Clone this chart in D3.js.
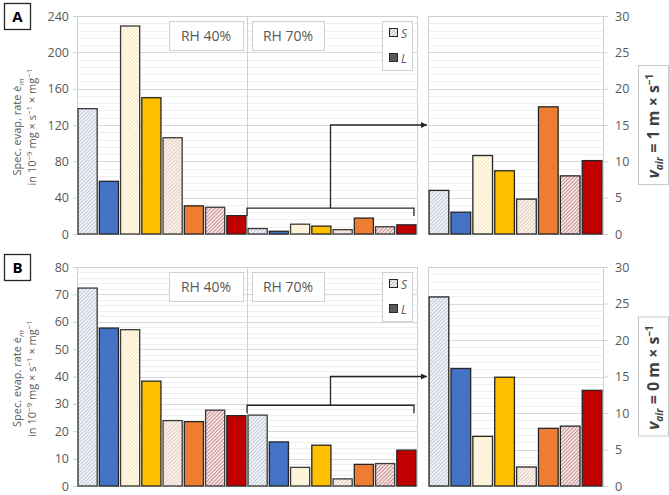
<!DOCTYPE html>
<html>
<head>
<meta charset="utf-8">
<script src="https://cdn.jsdelivr.net/npm/d3@7"></script>
<style>
  body { margin: 0; background: #fff; }
  svg text { font-family: "Open Sans", "Liberation Sans", sans-serif; }
</style>
</head>
<body>
<script>
// bar order: S/L pairs for four samples
var kinds = ['S', 'L', 'S', 'L', 'S', 'L', 'S', 'L']
var samples = ['s1', 's1', 's2', 's2', 's3', 's3', 's4', 's4']

// panel A (v_air = 1 m/s)
var rh40A = [138, 58, 229, 150, 106, 31, 29.4, 20.2]
var rh70A = [6.0, 3.0, 10.8, 8.7, 4.8, 17.5, 8.0, 10.1]
// panel B (v_air = 0 m/s)
var rh40B = [72.3, 57.7, 57.1, 38.3, 23.9, 23.5, 27.7, 25.7]
var rh70B = [25.9, 16.1, 6.8, 14.9, 2.6, 7.9, 8.2, 13.1]

var leftTicksA = [0, 40, 80, 120, 160, 200, 240]
var leftTicksB = [0, 10, 20, 30, 40, 50, 60, 70, 80]
var rightTicks = [0, 5, 10, 15, 20, 25, 30]

var fills = ['url(#h0)', '#4472C4', 'url(#h1)', '#FFC000', 'url(#h2)', '#ED7D31', 'url(#h3)', '#C00000']
var hatch = [
    {bg: '#f1f4f9', fg: '#9aa9be'},
    {bg: '#fffbee', fg: '#f0d58a'},
    {bg: '#fbf3ee', fg: '#cfb09a'},
    {bg: '#f5e4e4', fg: '#a65457'}
]

var W = 669, H = 495
var svg = d3.select('body').append('svg').attr('width', W).attr('height', H)

var defs = svg.append('defs')
hatch.forEach(function (h, i) {
    var p = defs.append('pattern')
        .attr('id', 'h' + i)
        .attr('patternUnits', 'userSpaceOnUse')
        .attr('width', 2.6).attr('height', 2.6)
        .attr('patternTransform', 'rotate(45)')
    p.append('rect').attr('width', 2.6).attr('height', 2.6).attr('fill', h.bg)
    p.append('line').attr('x1', 0).attr('y1', 0).attr('x2', 0).attr('y2', 2.6)
        .attr('stroke', h.fg).attr('stroke-width', 1.1)
})
var lp = defs.append('pattern').attr('id', 'hleg').attr('patternUnits', 'userSpaceOnUse')
    .attr('width', 2.5).attr('height', 2.5).attr('patternTransform', 'rotate(45)')
lp.append('rect').attr('width', 2.5).attr('height', 2.5).attr('fill', '#f2f2f2')
lp.append('line').attr('x1', 0).attr('y1', 0).attr('x2', 0).attr('y2', 2.5).attr('stroke', '#8a8a8a').attr('stroke-width', 1)

defs.append('marker').attr('id', 'arr')
    .attr('viewBox', '0 0 10 10').attr('refX', 10).attr('refY', 5)
    .attr('markerWidth', 7).attr('markerHeight', 6).attr('markerUnits', 'userSpaceOnUse')
    .attr('orient', 'auto')
    .append('path').attr('d', 'M0,0 L10,5 L0,10 z').attr('fill', '#262626')

var L0 = 77, L1 = 417, R0 = 428, R1 = 603
var textCol = '#595959'

function minorTicks(ticks) {
    var out = []
    for (var i = 0; i < ticks.length - 1; i++) {
        var step = (ticks[i + 1] - ticks[i]) / 5
        for (var k = 1; k < 5; k++) out.push(ticks[i] + k * step)
    }
    return out
}

function drawPanel(o) {
    var g = svg.append('g')
    var yL = d3.scaleLinear().domain([0, o.leftTicks[o.leftTicks.length - 1]]).range([o.bottom, o.top])
    var yR = d3.scaleLinear().domain([0, rightTicks[rightTicks.length - 1]]).range([o.bottom, o.top])

    var xL = d3.scaleBand().domain(d3.range(16)).range([L0, L1]).paddingInner(0.1).paddingOuter(0.05)
    var xR = d3.scaleBand().domain(d3.range(8)).range([R0, R1]).paddingInner(0.1).paddingOuter(0.05)

    // gridlines
    function grid(x0, x1, y, ticks) {
        g.selectAll(null).data(minorTicks(ticks)).enter().append('line')
            .attr('x1', x0).attr('x2', x1)
            .attr('y1', d => Math.round(y(d)) + 0.5).attr('y2', d => Math.round(y(d)) + 0.5)
            .attr('stroke', '#efefef').attr('stroke-width', 1)
        g.selectAll(null).data(ticks).enter().append('line')
            .attr('x1', x0).attr('x2', x1)
            .attr('y1', d => Math.round(y(d)) + 0.5).attr('y2', d => Math.round(y(d)) + 0.5)
            .attr('stroke', '#d9d9d9').attr('stroke-width', 1)
    }
    grid(L0, L1, yL, o.leftTicks)
    grid(R0, R1, yR, rightTicks)

    // plot frames
    g.append('rect').attr('x', L0 + 0.5).attr('y', o.top + 0.5)
        .attr('width', L1 - L0).attr('height', o.bottom - o.top)
        .attr('fill', 'none').attr('stroke', '#d0d0d0')
    g.append('line').attr('x1', (L0 + L1) / 2 + 0.5).attr('x2', (L0 + L1) / 2 + 0.5)
        .attr('y1', o.top).attr('y2', o.bottom).attr('stroke', '#d0d0d0')
    g.append('rect').attr('x', R0 + 0.5).attr('y', o.top + 0.5)
        .attr('width', R1 - R0).attr('height', o.bottom - o.top)
        .attr('fill', 'none').attr('stroke', '#d0d0d0')

    // axes
    var axL = d3.axisLeft(yL).tickValues(o.leftTicks).tickSize(4).tickPadding(4)
    var gl = g.append('g').attr('transform', 'translate(' + L0 + ',0)').call(axL)
    var axR = d3.axisRight(yR).tickValues(rightTicks).tickSize(5).tickPadding(7)
    var gr = g.append('g').attr('transform', 'translate(' + R1 + ',0)').call(axR)
    ;[gl, gr].forEach(function (a) {
        a.select('.domain').remove()
        a.selectAll('.tick line').attr('stroke', '#d0d0d0')
        a.selectAll('.tick text').attr('fill', textCol).style('font-size', '12.5px')
    })

    // bars, left chart: RH 40% then RH 70%
    var leftData = o.rh40.map((v, i) => ({i: i, v: v}))
        .concat(o.rh70.map((v, i) => ({i: i, v: v})))
    g.selectAll(null).data(leftData).enter().append('rect')
        .attr('x', (d, k) => xL(k))
        .attr('width', xL.bandwidth())
        .attr('y', d => yL(d.v))
        .attr('height', d => o.bottom - yL(d.v))
        .attr('fill', d => fills[d.i])
        .attr('stroke', d => kinds[d.i] == 'S' ? '#3a3a3a' : '#262626')
        .attr('stroke-width', 1.3)

    g.selectAll(null).data(o.rh70).enter().append('rect')
        .attr('x', (d, i) => xR(i))
        .attr('width', xR.bandwidth())
        .attr('y', d => yR(d))
        .attr('height', d => o.bottom - yR(d))
        .attr('fill', (d, i) => fills[i])
        .attr('stroke', '#262626')
        .attr('stroke-width', 1.3)

    // RH labels
    function labelBox(x, w, txt) {
        g.append('rect').attr('x', x + 0.5).attr('y', o.top + 5.5).attr('width', w).attr('height', 29)
            .attr('fill', '#fff').attr('stroke', '#d0d0d0')
        g.append('text').attr('x', x + w / 2).attr('y', o.top + 25)
            .attr('text-anchor', 'middle').attr('fill', textCol).style('font-size', '14px')
            .text(txt)
    }
    labelBox(169, 74, 'RH 40%')
    labelBox(252, 72, 'RH 70%')

    // legend
    g.append('rect').attr('x', 382.5).attr('y', o.top + 5.5).attr('width', 30).attr('height', 49)
        .attr('fill', '#fff').attr('stroke', '#d0d0d0')
    var leg = [{k: 'S', f: 'url(#hleg)'}, {k: 'L', f: '#595959'}]
    leg.forEach(function (d, i) {
        var cy = o.top + 17 + i * 25
        g.append('rect').attr('x', 389.5).attr('y', cy - 4.5).attr('width', 8).attr('height', 8)
            .attr('fill', d.f).attr('stroke', '#262626').attr('stroke-width', 1)
        g.append('text').attr('x', 401).attr('y', cy + 4.5)
            .attr('fill', textCol).style('font-size', '12px').style('font-style', 'italic')
            .text(d.k)
    })

    // bracket and arrow
    var bx0 = xL(8) - 1, bx1 = xL(15) + xL.bandwidth() - 2
    var by = yL(o.bracket)
    var mx = (bx0 + bx1) / 2
    g.append('path')
        .attr('d', 'M' + bx0 + ',' + (by + 8) + 'V' + by + 'H' + bx1 + 'V' + (by + 8))
        .attr('fill', 'none').attr('stroke', '#262626').attr('stroke-width', 1.3)
    g.append('path')
        .attr('d', 'M' + mx + ',' + by + 'V' + yR(o.arrowAt) + 'H' + (R0 - 1))
        .attr('fill', 'none').attr('stroke', '#262626').attr('stroke-width', 1.3)
        .attr('marker-end', 'url(#arr)')

    // panel letter
    g.append('rect').attr('x', 4.5).attr('y', o.top - 12.5).attr('width', 26).attr('height', 26)
        .attr('fill', '#fff').attr('stroke', '#262626').attr('stroke-width', 1.3)
    g.append('text').attr('x', 17.5).attr('y', o.top + 5.5).attr('text-anchor', 'middle')
        .style('font-size', '15px').style('font-weight', 'bold').attr('fill', '#000')
        .text(o.letter)

    // y label
    var cy = (o.top + o.bottom) / 2
    var t1 = g.append('text').attr('transform', 'translate(21,' + (cy + 2) + ') rotate(-90)')
        .attr('text-anchor', 'middle').attr('fill', textCol).style('font-size', '11px')
    t1.append('tspan').text('Spec. evap. rate \u0117')
    t1.append('tspan').attr('dy', 3).style('font-size', '8px').style('font-style', 'italic').text('m')
    var t2 = g.append('text').attr('transform', 'translate(36,' + (cy + 2) + ') rotate(-90)')
        .attr('text-anchor', 'middle').attr('fill', textCol).style('font-size', '11px')
    t2.append('tspan').text('in 10')
    t2.append('tspan').attr('dy', -4).style('font-size', '8px').text('\u22129')
    t2.append('tspan').attr('dy', 4).text(' mg \u00d7 s')
    t2.append('tspan').attr('dy', -4).style('font-size', '8px').text('\u22121')
    t2.append('tspan').attr('dy', 4).text(' \u00d7 mg')
    t2.append('tspan').attr('dy', -4).style('font-size', '8px').text('\u22121')

    // v_air box
    g.append('rect').attr('x', 638.5).attr('y', cy - 59.5).attr('width', 30).attr('height', 119)
        .attr('fill', '#fff').attr('stroke', '#c8c8c8')
    var tv = g.append('text').attr('transform', 'translate(659,' + (cy + 1) + ') rotate(-90)')
        .attr('text-anchor', 'middle').attr('fill', '#404040')
        .style('font-size', '16px').style('font-weight', 'bold')
    tv.append('tspan').style('font-style', 'italic').text('v')
    tv.append('tspan').attr('dy', 4).style('font-size', '10px').style('font-style', 'italic').text('air')
    tv.append('tspan').attr('dy', -4).text('  =  ' + o.vair + ' m \u00d7 s')
    tv.append('tspan').attr('dy', -6).style('font-size', '10px').text('\u22121')
}

drawPanel({letter: 'A', top: 16, bottom: 234, leftTicks: leftTicksA, rh40: rh40A, rh70: rh70A,
    bracket: 28.5, arrowAt: 15, vair: '1'})
drawPanel({letter: 'B', top: 267, bottom: 486, leftTicks: leftTicksB, rh40: rh40B, rh70: rh70B,
    bracket: 29.5, arrowAt: 15, vair: '0'})
</script>
</body>
</html>
